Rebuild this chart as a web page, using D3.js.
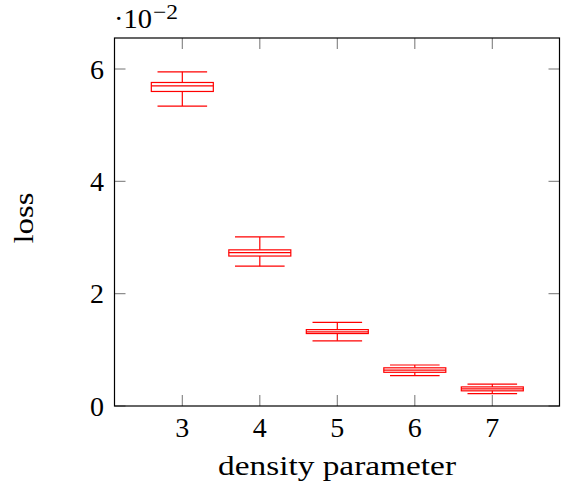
<!DOCTYPE html>
<html><head><meta charset="utf-8">
<script src="https://cdn.jsdelivr.net/npm/d3@7"></script>
<style>body{margin:0;background:#fff}svg{display:block}text{font-family:"Liberation Serif","Times New Roman",serif;fill:#000}</style>
</head><body><svg id="c" width="561" height="483"></svg>
<script>
const categories = [3, 4, 5, 6, 7];
const lowerWhisker  = [0.0534, 0.0249, 0.0116, 0.0054, 0.0022];
const lowerQuartile = [0.0560, 0.0267, 0.0129, 0.0060, 0.0027];
const medians       = [0.0570, 0.0273, 0.0132, 0.0064, 0.00305];
const upperQuartile = [0.0576, 0.0278, 0.0136, 0.0068, 0.0034];
const upperWhisker  = [0.0595, 0.0301, 0.0149, 0.0073, 0.0039];
const yTicks = [0, 0.02, 0.04, 0.06];
const yTickLabels = ["0", "2", "4", "6"];
const xLabel = "density parameter";
const yLabel = "loss";

const svg = d3.select("#c");
const L = 114.5, R = 559.5, T = 38, B = 406;
const x = d3.scaleLinear().domain([2.125, 7.867]).range([L, R]);
const y = d3.scaleLinear().domain([0, 0.06552]).range([B, T]);
const FS = 28, TL = 11, red = "#ff0000";

const data = categories.map((c, i) => ({c, lw: lowerWhisker[i], lq: lowerQuartile[i], md: medians[i], uq: upperQuartile[i], uw: upperWhisker[i]}));

// ticks (inside, mirrored)
const tk = svg.append("g").attr("stroke", "#7f7f7f").attr("stroke-width", 1.1);
categories.forEach(c => {
  tk.append("line").attr("x1", x(c)).attr("x2", x(c)).attr("y1", B).attr("y2", B - TL);
  tk.append("line").attr("x1", x(c)).attr("x2", x(c)).attr("y1", T).attr("y2", T + TL);
});
yTicks.forEach(v => {
  tk.append("line").attr("x1", L).attr("x2", L + TL).attr("y1", y(v)).attr("y2", y(v));
  tk.append("line").attr("x1", R).attr("x2", R - TL).attr("y1", y(v)).attr("y2", y(v));
});

// boxes
const bw = 0.8, ww = 0.64;
const g = svg.append("g").attr("stroke", red).attr("stroke-width", 1.2).attr("fill", "none");
data.forEach(d => {
  const cx = x(d.c);
  const hb = (x(d.c + bw / 2) - x(d.c - bw / 2)) / 2;
  const hw = (x(d.c + ww / 2) - x(d.c - ww / 2)) / 2;
  g.append("line").attr("x1", cx).attr("x2", cx).attr("y1", y(d.uq)).attr("y2", y(d.uw));
  g.append("line").attr("x1", cx).attr("x2", cx).attr("y1", y(d.lq)).attr("y2", y(d.lw));
  g.append("line").attr("x1", cx - hw).attr("x2", cx + hw).attr("y1", y(d.uw)).attr("y2", y(d.uw));
  g.append("line").attr("x1", cx - hw).attr("x2", cx + hw).attr("y1", y(d.lw)).attr("y2", y(d.lw));
  g.append("rect").attr("x", cx - hb).attr("width", 2 * hb).attr("y", y(d.uq)).attr("height", y(d.lq) - y(d.uq));
  g.append("line").attr("x1", cx - hb).attr("x2", cx + hb).attr("y1", y(d.md)).attr("y2", y(d.md));
});

// frame
svg.append("rect").attr("x", L).attr("y", T).attr("width", R - L).attr("height", B - T)
  .attr("fill", "none").attr("stroke", "#000").attr("stroke-width", 1.2);

// tick labels
categories.forEach(c => {
  svg.append("text").attr("x", x(c)).attr("y", 437).attr("text-anchor", "middle").attr("font-size", FS)
    .attr("textLength", 14).attr("lengthAdjust", "spacingAndGlyphs").text(c);
});
yTicks.forEach((v, i) => {
  svg.append("text").attr("x", 104).attr("y", y(v) + 9.5).attr("text-anchor", "end").attr("font-size", FS)
    .attr("textLength", 14).attr("lengthAdjust", "spacingAndGlyphs").text(yTickLabels[i]);
});

// scale label
const sc = svg.append("text").attr("x", 114).attr("y", 28).attr("font-size", FS);
sc.append("tspan").attr("textLength", 38).attr("lengthAdjust", "spacingAndGlyphs").text("·10");
sc.append("tspan").attr("dy", -9).attr("dx", 1).attr("font-size", 21)
  .attr("textLength", 25).attr("lengthAdjust", "spacingAndGlyphs").text("−2");

// axis labels
svg.append("text").attr("x", (L + R) / 2).attr("y", 475).attr("text-anchor", "middle").attr("font-size", FS)
  .attr("textLength", 238).attr("lengthAdjust", "spacingAndGlyphs").text(xLabel);
svg.append("text").attr("transform", `translate(33,${(T + B) / 2 - 4}) rotate(-90)`).attr("text-anchor", "middle").attr("font-size", FS)
  .attr("textLength", 51).attr("lengthAdjust", "spacingAndGlyphs").text(yLabel);
</script></body></html>
